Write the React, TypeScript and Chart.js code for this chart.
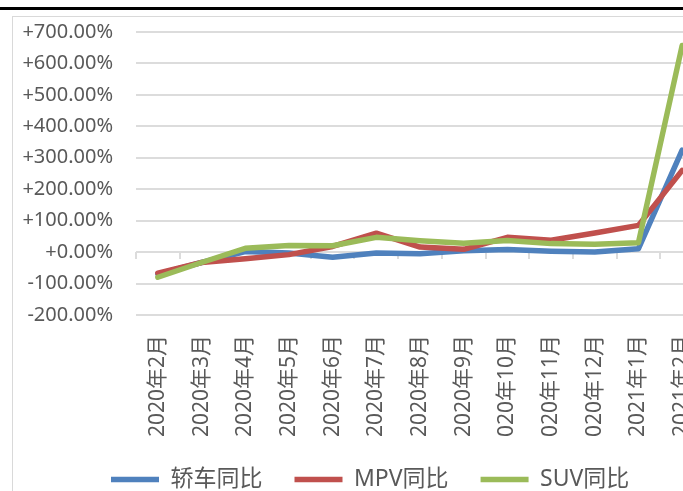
import React, { useEffect, useRef } from "react";
import { Chart, registerables } from "chart.js";

Chart.register(...registerables);

const categories = [
  "2020年2月", "2020年3月", "2020年4月", "2020年5月", "2020年6月", "2020年7月",
  "2020年8月", "2020年9月", "2020年10月", "2020年11月", "2020年12月", "2021年1月", "2021年2月",
];
const seriesNames = ["轿车同比", "MPV同比", "SUV同比"];
const sedanYoY = [-70, -33, 2, -3, -16, -3, -5, 4, 8, 3, 0, 11, 324];
const mpvYoY = [-67, -33, -21, -8, 18, 60, 16, 9, 47, 38, 61, 85, 260];
const suvYoY = [-80, -33, 12, 21, 20, 47, 36, 28, 37, 27, 25, 30, 657];
const yMin = -200;
const yMax = 700;
const yStep = 100;

const colors = ["#4F81BD", "#C0504D", "#9BBB59"];
const textColor = "#595959";
const gridColor = "#DCDCDC";

const zeroTicks = {
  id: "zeroTicks",
  afterLayout(chart: any) {
    if (chart.legend) {
      chart.legend.left = 66;
    }
  },
  beforeDatasetsDraw(chart: any) {
    const xs = chart.scales.x;
    const ys = chart.scales.y;
    const ctx = chart.ctx;
    const y0 = ys.getPixelForValue(0);
    ctx.save();
    ctx.strokeStyle = gridColor;
    ctx.lineWidth = 2;
    for (let i = 0; i <= categories.length; i++) {
      const px = Math.round(xs.getPixelForValue(i - 0.5));
      ctx.beginPath();
      ctx.moveTo(px, y0);
      ctx.lineTo(px, y0 + 7);
      ctx.stroke();
    }
    ctx.restore();
  },
};

export default function App() {
  const ref = useRef<HTMLCanvasElement | null>(null);
  useEffect(() => {
    if (!ref.current) return;
    const data = [sedanYoY, mpvYoY, suvYoY];
    const chart = new Chart(ref.current, {
      type: "line",
      data: {
        labels: categories,
        datasets: data.map((d, i) => ({
          label: seriesNames[i],
          data: d,
          borderColor: colors[i],
          backgroundColor: colors[i],
          borderWidth: 5.5,
          borderCapStyle: "round",
          borderJoinStyle: "round",
          pointRadius: 0,
          pointHoverRadius: 0,
          tension: 0,
          order: 3 - i,
        })),
      },
      options: {
        animation: false,
        responsive: false,
        devicePixelRatio: 1,
        layout: { padding: { left: 0, top: 15, right: 0, bottom: 0 } },
        plugins: {
          tooltip: { enabled: false },
          legend: {
            position: "bottom",
            align: "start",
            labels: {
              usePointStyle: true,
              pointStyle: "line",
              pointStyleWidth: 48,
              padding: 32,
              color: textColor,
              font: { family: "'Noto Sans', 'Noto Sans CJK SC', sans-serif", size: 23 },
              sort: (a: any, b: any) => a.datasetIndex - b.datasetIndex,
            },
          },
        },
        scales: {
          x: {
            type: "category",
            offset: true,
            grid: { display: false, drawTicks: false },
            border: { display: false },
            ticks: {
              autoSkip: false,
              minRotation: 90,
              maxRotation: 90,
              padding: 20,
              color: textColor,
              font: { family: "'Noto Sans', 'Noto Sans CJK SC', sans-serif", size: 21 },
            },
            afterFit: (s: any) => {
              s.height = 121;
              s.paddingLeft = 0;
              s.paddingRight = 0;
            },
          },
          y: {
            min: yMin,
            max: yMax,
            grid: { color: gridColor, lineWidth: 2, drawTicks: false },
            border: { display: false },
            ticks: {
              stepSize: yStep,
              padding: 23,
              color: textColor,
              font: { family: "'Noto Sans', sans-serif", size: 20 },
              callback: (v: any) => (Number(v) >= 0 ? "+" : "") + Number(v).toFixed(2) + "%",
            },
            afterFit: (s: any) => {
              s.width = 123;
              s.paddingTop = 0;
              s.paddingBottom = 0;
            },
          },
        },
      },
      plugins: [zeroTicks],
    });
    return () => chart.destroy();
  }, []);

  return (
    <div style={{ position: "fixed", left: 0, top: 0, width: 683, height: 491, overflow: "hidden", background: "#fff" }}>
      <div style={{ position: "absolute", left: 0, top: 7, width: 683, height: 3, background: "#000" }} />
      <div
        style={{
          position: "absolute",
          left: 12,
          top: 16,
          width: 900,
          height: 900,
          border: "1px solid #D9D9D9",
          boxSizing: "border-box",
        }}
      />
      <canvas
        ref={ref}
        width={691}
        height={484}
        style={{ position: "absolute", left: 13, top: 17, width: 691, height: 484 }}
      />
    </div>
  );
}
